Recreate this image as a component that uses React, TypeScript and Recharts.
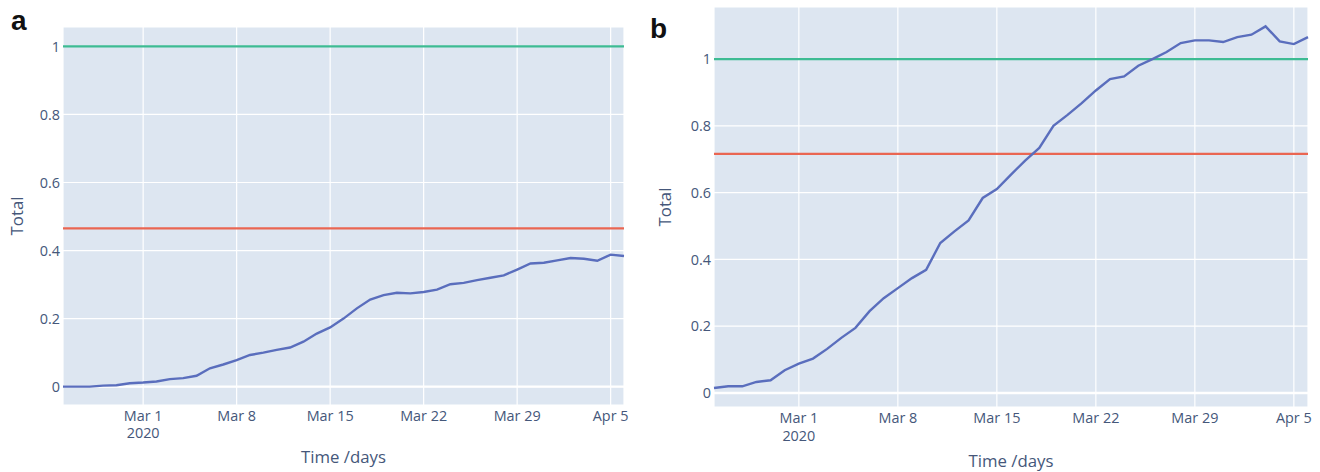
import React from 'react';
import {
  LineChart,
  Line,
  XAxis,
  YAxis,
  CartesianGrid,
  ReferenceLine,
} from 'recharts';

const dates = [
  'Feb 24', 'Feb 25', 'Feb 26', 'Feb 27', 'Feb 28', 'Feb 29',
  'Mar 1', 'Mar 2', 'Mar 3', 'Mar 4', 'Mar 5', 'Mar 6', 'Mar 7',
  'Mar 8', 'Mar 9', 'Mar 10', 'Mar 11', 'Mar 12', 'Mar 13', 'Mar 14',
  'Mar 15', 'Mar 16', 'Mar 17', 'Mar 18', 'Mar 19', 'Mar 20', 'Mar 21',
  'Mar 22', 'Mar 23', 'Mar 24', 'Mar 25', 'Mar 26', 'Mar 27', 'Mar 28',
  'Mar 29', 'Mar 30', 'Mar 31', 'Apr 1', 'Apr 2', 'Apr 3', 'Apr 4',
  'Apr 5', 'Apr 6',
];

const totalA = [
  0, 0, 0, 0.003, 0.004, 0.01, 0.012, 0.015, 0.022, 0.025, 0.032,
  0.054, 0.065, 0.078, 0.093, 0.1, 0.108, 0.115, 0.132, 0.156, 0.174,
  0.2, 0.23, 0.256, 0.269, 0.276, 0.274, 0.278, 0.285, 0.301, 0.305,
  0.313, 0.32, 0.327, 0.344, 0.362, 0.364, 0.371, 0.378, 0.376, 0.37,
  0.388, 0.384,
];

const totalB = [
  0.015, 0.02, 0.02, 0.033, 0.038, 0.068, 0.088, 0.103, 0.132, 0.165,
  0.195, 0.245, 0.284, 0.314, 0.344, 0.369, 0.449, 0.484, 0.517, 0.584,
  0.611, 0.654, 0.696, 0.734, 0.8, 0.833, 0.868, 0.906, 0.94, 0.948,
  0.98, 1.0, 1.021, 1.048, 1.056, 1.056, 1.051, 1.066, 1.073, 1.098,
  1.053, 1.045, 1.066,
];

const upperA = 1;
const lowerA = 0.465;
const upperB = 1;
const lowerB = 0.716;

const tickDates = ['Mar 1', 'Mar 8', 'Mar 15', 'Mar 22', 'Mar 29', 'Apr 5'];
const yTicks = [0, 0.2, 0.4, 0.6, 0.8, 1];

const FONT = '"Open Sans", Verdana, sans-serif';
const TEXT = '#45577a';
const BG = '#dde6f1';
const BLUE = '#5a6ebd';
const GREEN = '#3dbb93';
const RED = '#ea6652';

const toRows = (values: number[]) =>
  dates.map((date, i) => ({ date, total: values[i] }));

const DateTick = (props: any) => {
  const { x, y, payload, dy, gap } = props;
  return (
    <text x={x} y={y + dy} textAnchor="middle" fill={TEXT} fontSize={14.4} fontFamily={FONT}>
      <tspan x={x}>{payload.value}</tspan>
      {payload.value === 'Mar 1' && (
        <tspan x={x} dy={gap}>
          2020
        </tspan>
      )}
    </text>
  );
};

type PanelProps = {
  values: number[];
  upper: number;
  lower: number;
  domain: [number, number];
  width: number;
  margin: { top: number; right: number; left: number; bottom: number };
  yAxisWidth: number;
  xAxisHeight: number;
  tickDy: number;
  tickGap: number;
  yTitleOffset: number;
  xTitleOffset: number;
};

const Panel: React.FC<PanelProps> = ({
  values,
  upper,
  lower,
  domain,
  width,
  margin,
  yAxisWidth,
  xAxisHeight,
  tickDy,
  tickGap,
  yTitleOffset,
  xTitleOffset,
}) => (
  <LineChart width={width} height={472} data={toRows(values)} margin={margin}>
    <CartesianGrid stroke="#ffffff" strokeWidth={1.2} fill={BG} fillOpacity={1} />
    <XAxis
      dataKey="date"
      ticks={tickDates}
      interval={0}
      axisLine={false}
      tickLine={false}
      tickSize={0}
      tickMargin={0}
      height={xAxisHeight}
      tick={<DateTick dy={tickDy} gap={tickGap} />}
      label={{
        value: 'Time /days',
        position: 'insideBottom',
        offset: xTitleOffset,
        fill: TEXT,
        fontSize: 16.8,
        fontFamily: FONT,
      }}
    />
    <YAxis
      type="number"
      domain={domain}
      ticks={yTicks}
      allowDataOverflow
      axisLine={false}
      tickLine={false}
      tickSize={0}
      tickMargin={3}
      width={yAxisWidth}
      tick={{ fill: TEXT, fontSize: 14.4, fontFamily: FONT }}
      tickFormatter={(v: number) => String(v)}
      label={{
        value: 'Total',
        angle: -90,
        position: 'insideLeft',
        offset: yTitleOffset,
        fill: TEXT,
        fontSize: 16.8,
        fontFamily: FONT,
        style: { textAnchor: 'middle' },
      }}
    />
    <ReferenceLine y={0} stroke="#ffffff" strokeWidth={2.4} />
    <ReferenceLine y={upper} stroke={GREEN} strokeWidth={2.4} />
    <ReferenceLine y={lower} stroke={RED} strokeWidth={2.4} />
    <Line
      type="linear"
      dataKey="total"
      stroke={BLUE}
      strokeWidth={2.4}
      dot={false}
      isAnimationActive={false}
    />
  </LineChart>
);

export default function App() {
  if (typeof document !== 'undefined') document.body.style.margin = '0';
  return (
    <div style={{ position: 'relative', width: 1320, height: 472, background: '#fff' }}>
      <div style={{ position: 'absolute', left: 0, top: 0 }}>
        <Panel
          values={totalA}
          upper={upperA}
          lower={lowerA}
          domain={[-0.054, 1.057]}
          width={645}
          margin={{ top: 27, right: 21, left: 0, bottom: 5 }}
          yAxisWidth={63}
          xAxisHeight={62}
          tickDy={15.5}
          tickGap={17}
          yTitleOffset={17}
          xTitleOffset={4}
        />
      </div>
      <div style={{ position: 'absolute', left: 645, top: 0 }}>
        <Panel
          values={totalB}
          upper={upperB}
          lower={lowerB}
          domain={[-0.042, 1.156]}
          width={675}
          margin={{ top: 7, right: 12, left: 0, bottom: 2 }}
          yAxisWidth={69}
          xAxisHeight={63}
          tickDy={16}
          tickGap={18}
          yTitleOffset={20}
          xTitleOffset={3.5}
        />
      </div>
      <svg
        width={1320}
        height={472}
        style={{ position: 'absolute', left: 0, top: 0, pointerEvents: 'none' }}
      >
        <text x={11} y={30} fontSize={28} fontWeight="bold" fontFamily="Liberation Sans, Arial, sans-serif" fill="#111">
          a
        </text>
        <text x={650} y={38} fontSize={28} fontWeight="bold" fontFamily="Liberation Sans, Arial, sans-serif" fill="#111">
          b
        </text>
      </svg>
    </div>
  );
}
